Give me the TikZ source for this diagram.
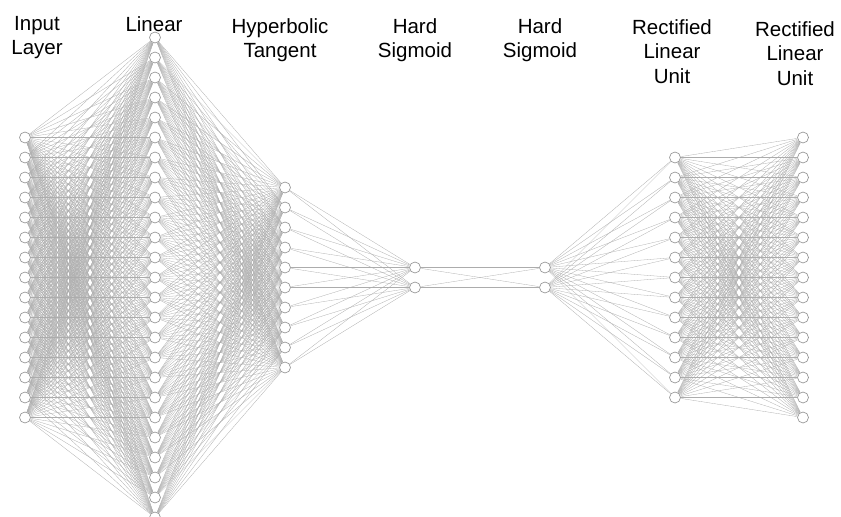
\documentclass[tikz,border=0pt]{standalone}
\usepackage{fontspec}
\setmainfont{Liberation Sans}
\usepackage{tikz}

\begin{document}
\begin{tikzpicture}[x=0.3mm, y=-0.3mm,
neuron/.style={circle, draw=gray!85, fill=white, inner sep=0pt, minimum size=3.3mm, line width=0.55pt},
synapse/.style={draw=gray!65, line width=0.25pt},
title/.style={font=\fontsize{17.5}{21}\selectfont, align=center, inner sep=0pt, anchor=north}]
\useasboundingbox (0,0) rectangle (841,517);

% layers: name / x / number of units, centred on one row
\foreach \name/\x/\n in {in/25/15, lin/155/25, tanh/285/10, hsa/415/2, hsb/545/2, rea/675/13, reb/803/15}
  \foreach \i in {1,...,\n}
    \node[neuron] (\name\i) at (\x, {277.5 + (\i - (\n+1)/2)*20}) {};

% fully connected between neighbouring layers
\foreach \from/\nf/\to/\nt in {in/15/lin/25, lin/25/tanh/10, tanh/10/hsa/2, hsa/2/hsb/2, hsb/2/rea/13, rea/13/reb/15}
  \foreach \i in {1,...,\nf}
    \foreach \j in {1,...,\nt}
      \draw[synapse] (\from\i) -- (\to\j);

% layer titles
\node[title] (t-in)   at (37,16)  {Input\\Layer};
\node[title] (t-lin)  at (154,16) {Linear};
\node[title] (t-tanh) at (280,18) {Hyperbolic\\Tangent};
\node[title] (t-hsa)  at (415,18) {Hard\\Sigmoid};
\node[title] (t-hsb)  at (540,18) {Hard\\Sigmoid};
\node[title] (t-rea)  at (672,19) {Rectified\\Linear\\Unit};
\node[title] (t-reb)  at (795,21) {Rectified\\Linear\\Unit};
\end{tikzpicture}
\end{document}
